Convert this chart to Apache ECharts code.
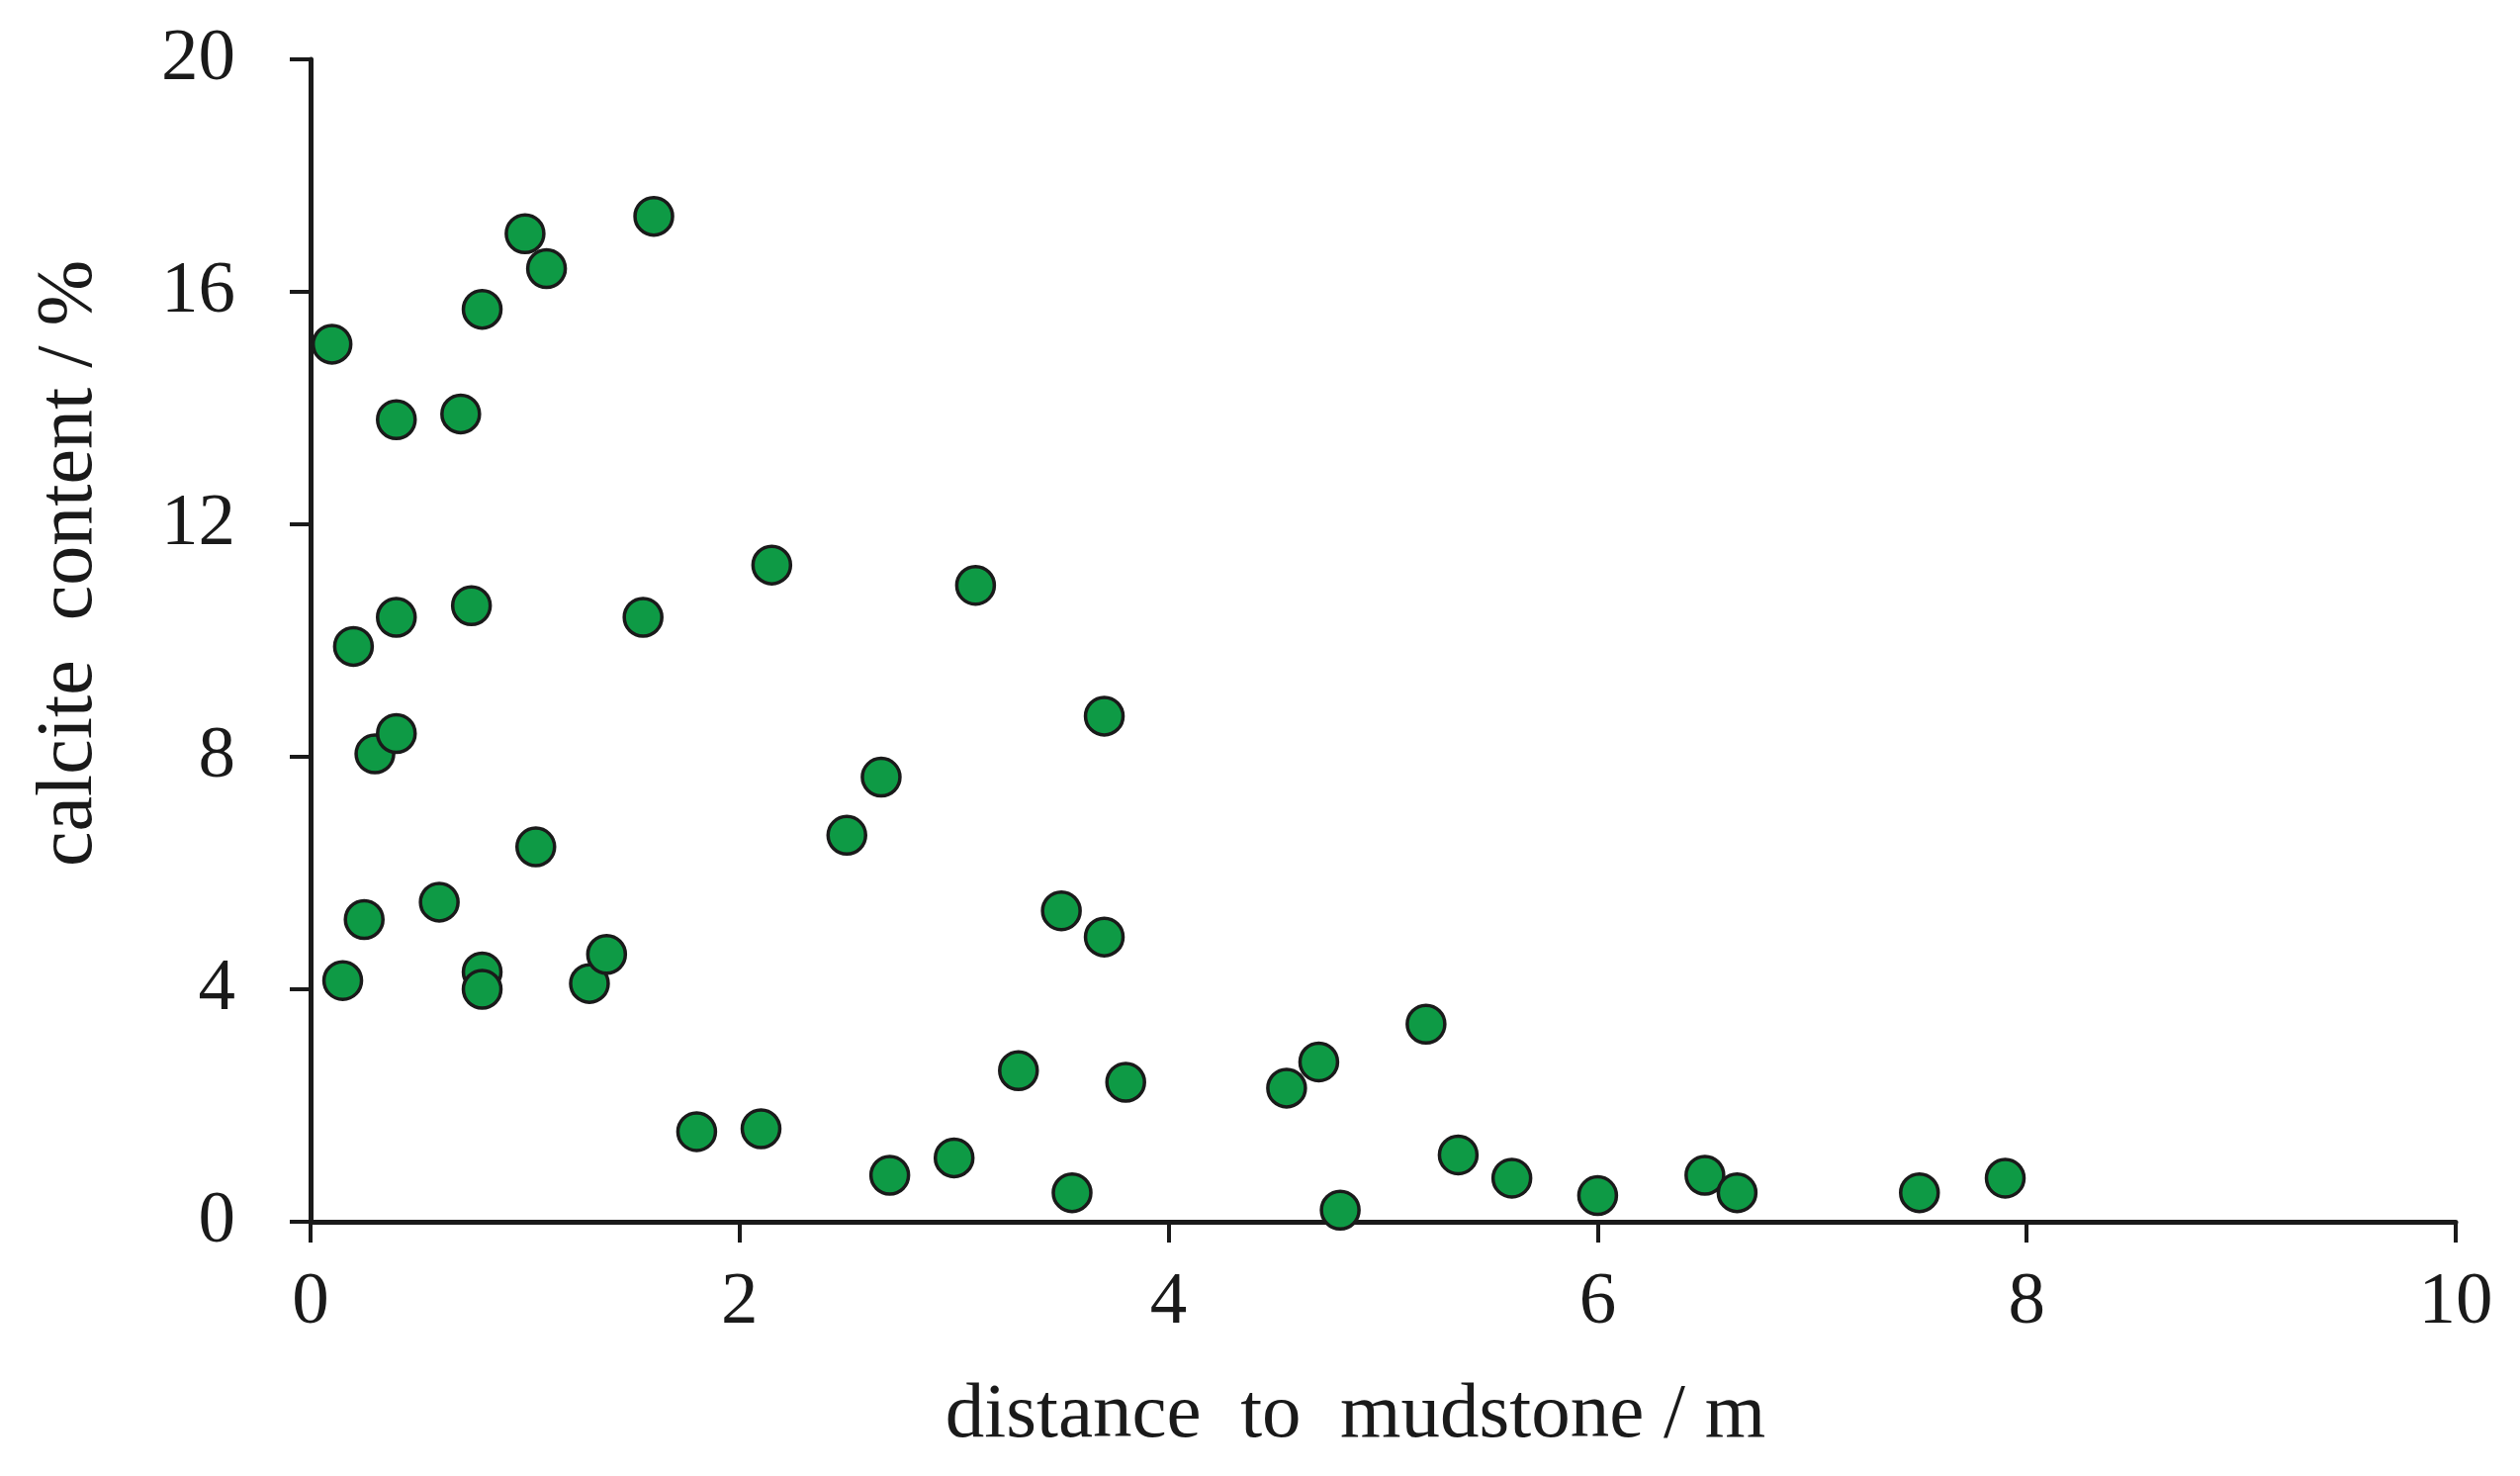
<!DOCTYPE html>
<html>
<head>
<meta charset="utf-8">
<script src="https://cdn.jsdelivr.net/npm/echarts@6/dist/echarts.min.js"></script>
<style>
html,body{margin:0;padding:0;background:#fff;}
#chart{width:2548px;height:1492px;}
</style>
</head>
<body>
<div id="chart"></div>
<script>
// distance to mudstone (m)
const distance = [0.1,0.4,0.7,0.8,1.0,1.1,1.6,0.2,0.4,0.75,1.55,2.15,3.1,0.3,0.4,3.7,2.66,2.5,1.05,0.6,0.25,0.15,0.8,0.8,1.3,1.38,3.5,3.7,5.2,3.3,3.8,4.55,4.7,1.8,2.1,2.7,3.0,3.55,4.8,5.35,5.6,6.0,6.5,6.65,7.5,7.9];
// calcite content (%)
const calcite = [15.1,13.8,13.9,15.7,17.0,16.4,17.3,9.9,10.4,10.6,10.4,11.3,10.95,8.05,8.4,8.7,7.65,6.65,6.45,5.5,5.2,4.15,4.3,4.0,4.1,4.6,5.35,4.9,3.4,2.6,2.4,2.3,2.75,1.55,1.6,0.8,1.1,0.5,0.2,1.15,0.75,0.45,0.8,0.5,0.5,0.75];
const xTicks = [0,2,4,6,8,10];
const yTicks = [0,4,8,12,16,20];
const xTitle = 'distance  to  mudstone / m';
const yTitle = 'calcite  content / %';

const points = distance.map((d,i)=>[d, calcite[i]]);
const font = '"Liberation Serif", "Times New Roman", serif';
const ink = '#1a1a1a';

const chart = echarts.init(document.getElementById('chart'));
chart.setOption({
  backgroundColor:'#ffffff',
  animation:false,
  grid:{left:314, right:65, top:60, bottom:257},
  xAxis:{
    type:'value', min:xTicks[0], max:xTicks[xTicks.length-1], interval:2,
    splitLine:{show:false},
    axisLine:{lineStyle:{color:ink, width:5}},
    axisTick:{inside:false, length:21, lineStyle:{color:ink, width:4}},
    axisLabel:{margin:45, fontFamily:font, fontSize:75, color:ink},
    name:xTitle, nameLocation:'middle', nameGap:157,
    nameTextStyle:{fontFamily:font, fontSize:79, color:ink, padding:[0,56,0,0]}
  },
  yAxis:{
    type:'value', min:yTicks[0], max:yTicks[yTicks.length-1], interval:4,
    splitLine:{show:false},
    axisLine:{lineStyle:{color:ink, width:5}},
    axisTick:{inside:false, length:21, lineStyle:{color:ink, width:4}},
    axisLabel:{margin:76, fontFamily:font, fontSize:75, color:ink},
    name:yTitle, nameLocation:'middle', nameGap:203,
    nameTextStyle:{fontFamily:font, fontSize:80, color:ink, padding:[0,0,0,156]}
  },
  series:[{
    type:'scatter',
    data:points,
    symbol:'circle',
    symbolSize:38,
    itemStyle:{color:'#0e9a45', borderColor:'#1a1a1a', borderWidth:3.5, opacity:1}
  }]
});
</script>
</body>
</html>
